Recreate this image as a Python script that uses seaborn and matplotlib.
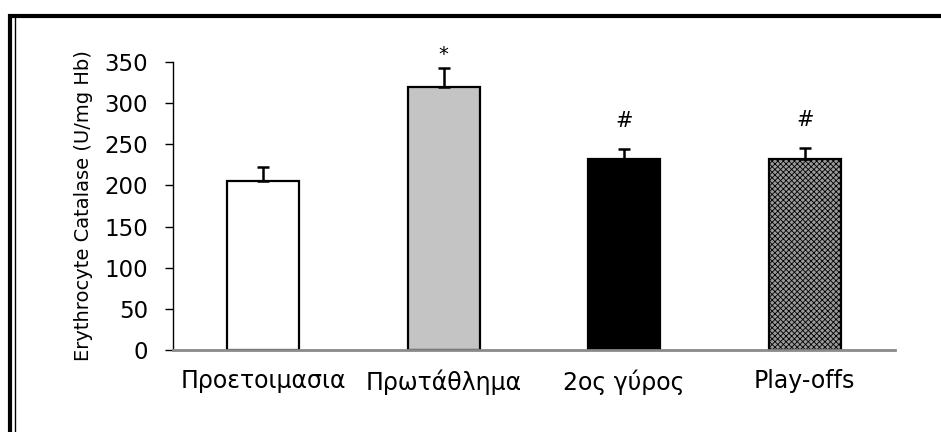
import matplotlib
matplotlib.use("Agg")
import matplotlib.pyplot as plt
from matplotlib.lines import Line2D
import seaborn as sns
import pandas as pd

categories = ["Προετοιμασια", "Πρωτάθλημα", "2ος γύρος", "Play-offs"]
values = [205, 320, 232, 232]
errors = [18, 23, 12, 13]
marks = ["", "*", "#", "#"]
bar_colors = ["#ffffff", "#c4c4c4", "#000000", "#8c8c8c"]
y_ticks = [0, 50, 100, 150, 200, 250, 300, 350]
y_label = "Erythrocyte Catalase (U/mg Hb)"

sns.set_style("white")
plt.rcParams["font.family"] = ["DejaVu Sans"]
plt.rcParams["hatch.linewidth"] = 0.6
for k in ["text.color", "axes.labelcolor", "xtick.color", "ytick.color"]:
    plt.rcParams[k] = "black"

df = pd.DataFrame({"cat": categories, "val": values})

fig = plt.figure(figsize=(9.41, 4.32), dpi=100)
ax = fig.add_axes([0.1838, 0.1898, 0.951 - 0.1838, 0.8565 - 0.1898])

sns.barplot(data=df, x="cat", y="val", hue="cat", palette=bar_colors,
            legend=False, width=0.4, edgecolor="black", linewidth=1.6,
            errorbar=None, ax=ax, saturation=1)

# hatch on last bar
patches = [p for p in ax.patches]
patches[3].set_hatch("xxxxxx")
patches[3].set_facecolor("#9a9a9a")

ax.errorbar(range(len(values)), values, yerr=[[0] * len(errors), errors],
            fmt="none", ecolor="black", elinewidth=1.8, capsize=4.5,
            capthick=1.8, zorder=1)

for i, (v, e, m) in enumerate(zip(values, errors, marks)):
    if m == "*":
        ax.text(i, v + e + 9, m, ha="center", va="baseline", fontsize=14)
    elif m:
        ax.text(i, v + e + 27, m, ha="center", va="baseline", fontsize=15)

ax.set_xlim(-0.5, 3.5)
ax.set_ylim(0, 350)
ax.set_yticks(y_ticks)
ax.set_xlabel("")
ax.set_ylabel(y_label, fontsize=14, labelpad=8)
ax.tick_params(axis="y", direction="out", length=6, width=1, pad=12,
               labelsize=16.5, left=True, color="black")
ax.tick_params(axis="x", length=0, pad=14, labelsize=17)

for s in ["top", "right"]:
    ax.spines[s].set_visible(False)
ax.spines["left"].set_color("black")
ax.spines["left"].set_linewidth(1)
ax.spines["bottom"].set_color("#8a8a8a")
ax.spines["bottom"].set_linewidth(2)

# outer frame (top and left only, as cropped in reference)
fig.add_artist(Line2D([8 / 941, 1], [1 - 15.5 / 432] * 2, transform=fig.transFigure,
                      color="black", lw=3, solid_capstyle="butt"))
fig.add_artist(Line2D([10 / 941] * 2, [0, 1 - 14 / 432], transform=fig.transFigure,
                      color="black", lw=3, solid_capstyle="butt"))
fig.add_artist(Line2D([14.5 / 941] * 2, [0, 1 - 17 / 432], transform=fig.transFigure,
                      color="black", lw=1, solid_capstyle="butt"))

fig.savefig("out.png", dpi=100, facecolor="white")
